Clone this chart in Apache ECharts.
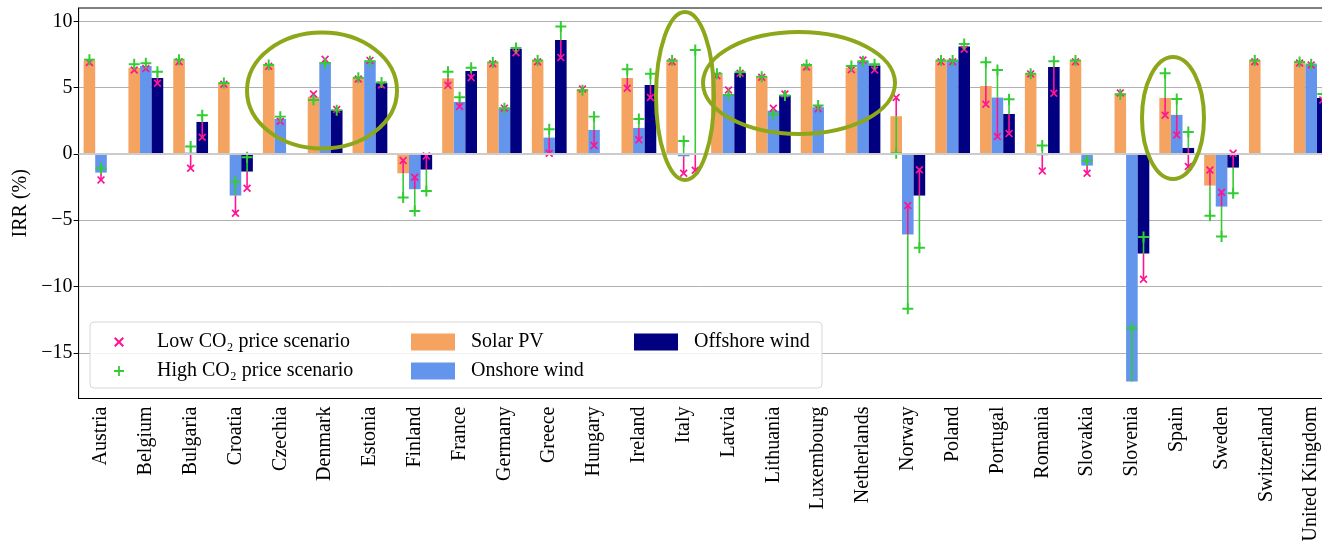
<!DOCTYPE html>
<html>
<head>
<meta charset="utf-8">
<script src="https://cdn.jsdelivr.net/npm/echarts@6/dist/echarts.min.js"></script>
<style>
  html, body { margin: 0; padding: 0; background: #fff; }
  #chart { width: 1322px; height: 547px; }
</style>
</head>
<body>
<div id="chart"></div>
<script>
const countries = ['Austria', 'Belgium', 'Bulgaria', 'Croatia', 'Czechia', 'Denmark', 'Estonia',
  'Finland', 'France', 'Germany', 'Greece', 'Hungary', 'Ireland', 'Italy', 'Latvia', 'Lithuania',
  'Luxembourg', 'Netherlands', 'Norway', 'Poland', 'Portugal', 'Romania', 'Slovakia', 'Slovenia',
  'Spain', 'Sweden', 'Switzerland', 'United Kingdom']

// IRR (%) per technology: base, low CO2 price, high CO2 price
const solar = [7.0, 6.5, 7.03, 5.33, 6.63, 4.3, 5.73, -1.46, 5.7, 6.88, 7.03, 4.87, 5.73, 7.03,
  5.95, 5.8, 6.63, 6.5, 2.84, 7.0, 5.12, 6.03, 7.03, 4.55, 4.22, -2.39, 7.03, 6.88]
const solarLow = [6.9, 6.33, 6.95, 5.25, 6.6, 4.52, 5.65, -0.5, 5.17, 6.8, 6.95, 4.9, 4.95, 6.95,
  5.9, 5.78, 6.55, 6.35, 4.25, 6.95, 3.74, 6.03, 6.95, 4.6, 2.91, -1.21, 6.95, 6.85]
const solarHigh = [7.1, 6.76, 7.1, 5.35, 6.7, 4.07, 5.75, -3.29, 6.2, 6.9, 7.05, 4.8, 6.38, 7.05,
  6.05, 5.82, 6.7, 6.63, 0.05, 7.05, 6.91, 6.05, 7.05, 4.5, 6.08, -4.67, 7.05, 6.93]

const onshore = [-1.41, 6.63, 0.1, -3.14, 2.64, 6.93, 7.03, -2.66, 3.92, 3.44, 1.23, 1.81, 1.96, -0.18,
  4.52, 3.26, 3.52, 6.98, -6.08, 7.0, 4.25, -0.1, -0.88, -17.16, 2.94, -3.97, null, 6.71]
const onshoreLow = [-1.96, 6.43, -1.08, -4.47, 2.46, 7.13, 7.05, -1.76, 3.57, 3.45, 0.05, 0.63, 1.06, -1.46,
  4.82, 3.44, 3.4, 7.08, -3.89, 6.95, 1.31, -1.28, -1.46, null, 1.43, -2.89, null, 6.7]
const onshoreHigh = [-1.08, 6.83, 0.55, -2.09, 2.81, 6.83, 6.98, -4.3, 4.27, 3.45, 1.86, 2.81, 2.64, 0.98,
  4.45, 2.99, 3.65, 6.98, -11.68, 7.05, 6.33, 0.63, -0.5, -13.14, 4.14, -6.23, null, 6.75]

const offshore = [null, 5.73, 2.41, -1.33, null, 3.32, 5.35, -1.18, 6.25, 7.91, 8.59, null, 5.2, 0,
  6.1, 4.42, null, 6.66, -3.14, 8.09, 3.01, 6.56, null, -7.51, 0.45, -1.03, null, 4.22]
const offshoreLow = [null, 5.33, 1.26, -2.59, null, 3.35, 5.2, -0.15, 5.75, 7.63, 7.26, null, 4.25, -1.23,
  6.08, 4.52, null, 6.33, -1.2, 7.89, 1.53, 4.57, null, -9.45, -0.95, 0.05, null, 4.07]
const offshoreHigh = [null, 6.2, 2.91, -0.25, null, 3.3, 5.38, -2.79, 6.5, 7.99, 9.6, null, 6.05, 7.84,
  6.15, 4.4, null, 6.76, -7.08, 8.29, 4.12, 6.98, null, -6.26, 1.66, -2.96, null, 4.52]

const yTicks = [-15, -10, -5, 0, 5, 10]

const FONT = 'Liberation Serif'
const PINK = '#ff1493'
const GREEN = '#32cd32'
const BAR_W = 11.6
const LOW_NAME = 'Low CO₂ price scenario'
const HIGH_NAME = 'High CO₂ price scenario'
const CROSS = 'path://M0,1.5L1.5,0L5,3.5L8.5,0L10,1.5L6.5,5L10,8.5L8.5,10L5,6.5L1.5,10L0,8.5L3.5,5Z'
const PLUS = 'path://M4.1,0H5.9V4.1H10V5.9H5.9V10H4.1V5.9H0V4.1H4.1Z'

function barSeries(name, values, color) {
  return {
    type: 'bar', name, data: values, barWidth: BAR_W, barGap: '0%',
    itemStyle: { color }, z: 2, silent: true
  }
}

// vertical lines from the bar end to each scenario marker
function rangeSeries(base, low, high, offset) {
  return {
    type: 'custom', z: 3, silent: true,
    encode: { x: 0, y: 1 },
    data: countries.map((c, i) => [i, base[i], low[i], high[i]]),
    renderItem: function (params, api) {
      const i = api.value(0)
      const b = api.value(1)
      if (!isFinite(b)) return
      const p = api.coord([i, b])
      const x = p[0] + offset
      const children = []
      ;[[2, PINK], [3, GREEN]].forEach(function (d) {
        const v = api.value(d[0])
        if (!isFinite(v)) return
        children.push({
          type: 'line',
          shape: { x1: x, y1: p[1], x2: x, y2: api.coord([i, v])[1] },
          style: { stroke: d[1], lineWidth: 1.6 }
        })
      })
      return { type: 'group', children }
    }
  }
}

function markerSeries(name, values, offset, symbol, size, color) {
  return {
    type: 'scatter', name, z: 4, silent: true,
    symbol, symbolSize: size, symbolOffset: [offset, 0],
    itemStyle: { color, opacity: 1 },
    data: countries.map((c, i) => [i, values[i]]).filter(d => d[1] != null)
  }
}

const chart = echarts.init(document.getElementById('chart'))

const legendText = { fontFamily: FONT, fontSize: 20, color: '#000', lineHeight: 20, padding: [0, 0, 0, 11] }

chart.setOption({
  animation: false,
  grid: {
    left: 78.6, top: 8, width: 1255, height: 390.5,
    show: true, borderColor: '#000', borderWidth: 1,
    outerBoundsMode: 'none', containLabel: false
  },
  legend: [
    {
      data: [LOW_NAME, HIGH_NAME], orient: 'vertical', left: 109, top: 327,
      itemWidth: 44, itemHeight: 10, itemGap: 9, selectedMode: false,
      textStyle: legendText, z: 5
    },
    {
      data: ['Solar PV', 'Onshore wind'], orient: 'vertical', left: 406, top: 327,
      icon: 'rect', itemWidth: 44, itemHeight: 17, itemGap: 9, selectedMode: false,
      textStyle: legendText, z: 5
    },
    {
      data: ['Offshore wind'], orient: 'vertical', left: 629, top: 327,
      icon: 'rect', itemWidth: 44, itemHeight: 17, itemGap: 9, selectedMode: false,
      textStyle: legendText, z: 5
    }
  ],
  xAxis: {
    type: 'category',
    data: countries,
    boundaryGap: true,
    axisLine: { onZero: false, lineStyle: { color: '#000', width: 1 } },
    axisTick: { alignWithLabel: true, length: 5, lineStyle: { color: '#000' } },
    axisLabel: { rotate: 90, interval: 0, margin: 8, fontFamily: FONT, fontSize: 20, color: '#000' },
    splitLine: { show: false }
  },
  yAxis: {
    type: 'value',
    min: -18.44,
    max: 11,
    name: 'IRR (%)',
    nameLocation: 'middle',
    nameGap: 46,
    nameTextStyle: { fontFamily: FONT, fontSize: 20, color: '#000' },
    axisLine: { show: true, onZero: false, lineStyle: { color: '#000', width: 1 } },
    axisTick: { show: true, length: 5, customValues: yTicks, lineStyle: { color: '#000' } },
    axisLabel: {
      customValues: yTicks, margin: 6, fontFamily: FONT, fontSize: 20, color: '#000',
      formatter: v => String(v).replace('-', '\u2212')
    },
    splitLine: { show: true, lineStyle: { color: '#b0b0b0', width: 1 } }
  },
  series: [
    {
      type: 'line', data: [], z: 1, silent: true,
      markLine: {
        silent: true, symbol: 'none', label: { show: false },
        lineStyle: { color: '#cccccc', width: 2, type: 'solid' },
        data: [{ yAxis: 0 }]
      }
    },
    barSeries('Solar PV', solar, '#f4a460'),
    barSeries('Onshore wind', onshore, '#6495ed'),
    barSeries('Offshore wind', offshore, '#000080'),
    rangeSeries(solar, solarLow, solarHigh, -BAR_W),
    rangeSeries(onshore, onshoreLow, onshoreHigh, 0),
    rangeSeries(offshore, offshoreLow, offshoreHigh, BAR_W),
    markerSeries(LOW_NAME, solarLow, -BAR_W, CROSS, 8, PINK),
    markerSeries(LOW_NAME, onshoreLow, 0, CROSS, 8, PINK),
    markerSeries(LOW_NAME, offshoreLow, BAR_W, CROSS, 8, PINK),
    markerSeries(HIGH_NAME, solarHigh, -BAR_W, PLUS, 11, GREEN),
    markerSeries(HIGH_NAME, onshoreHigh, 0, PLUS, 11, GREEN),
    markerSeries(HIGH_NAME, offshoreHigh, BAR_W, PLUS, 11, GREEN)
  ],
  graphic: [
    // legend frame
    {
      type: 'rect', z: 3, silent: true,
      shape: { x: 90, y: 322, width: 732, height: 66, r: 4 },
      style: { fill: 'rgba(255,255,255,0.85)', stroke: '#d6d6d6', lineWidth: 1 }
    },
    // hand-drawn highlight ellipses
    {
      type: 'ellipse', z: 10, silent: true,
      shape: { cx: 322, cy: 90.5, rx: 75, ry: 58 },
      style: { fill: null, stroke: '#8ca81a', lineWidth: 4 }
    },
    {
      type: 'ellipse', z: 10, silent: true,
      shape: { cx: 685, cy: 96, rx: 29, ry: 84 },
      style: { fill: null, stroke: '#8ca81a', lineWidth: 4 }
    },
    {
      type: 'ellipse', z: 10, silent: true,
      shape: { cx: 799, cy: 83, rx: 96, ry: 51 },
      style: { fill: null, stroke: '#8ca81a', lineWidth: 4 }
    },
    {
      type: 'ellipse', z: 10, silent: true,
      shape: { cx: 1173, cy: 118, rx: 31, ry: 61 },
      style: { fill: null, stroke: '#8ca81a', lineWidth: 4 }
    }
  ]
})
</script>
</body>
</html>
